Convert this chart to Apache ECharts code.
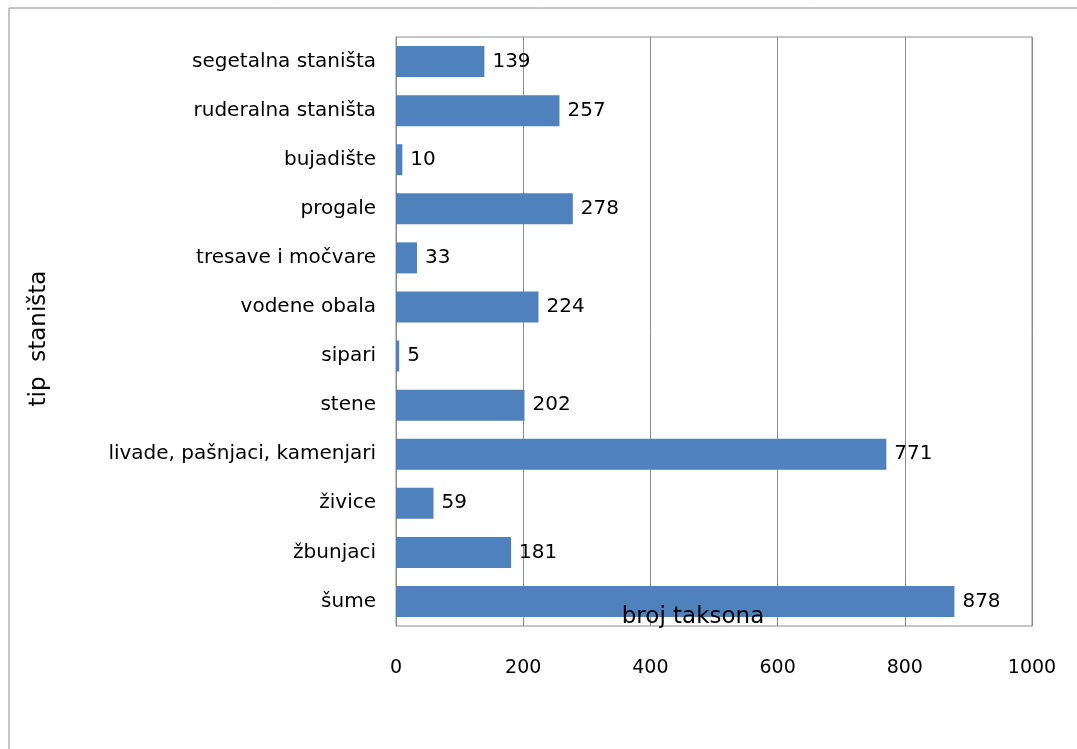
<!DOCTYPE html>
<html>
<head>
<meta charset="utf-8">
<script src="https://cdn.jsdelivr.net/npm/echarts@6/dist/echarts.min.js"></script>
<style>
  html, body { margin: 0; padding: 0; background: #fff; }
  #main { width: 1077px; height: 749px; }
</style>
</head>
<body>
<div id="main"></div>
<script>
// kategorije odozdo nagore (kao u originalu)
var categories = ['šume', 'žbunjaci', 'živice', 'livade, pašnjaci, kamenjari', 'stene', 'sipari',
    'vodene obala', 'tresave i močvare', 'progale', 'bujadište', 'ruderalna staništa', 'segetalna staništa'];
var values = [878, 181, 59, 771, 202, 5, 224, 33, 278, 10, 257, 139];
var xTicks = [0, 200, 400, 600, 800, 1000];

var myChart = echarts.init(document.getElementById('main'));
var font = '"DejaVu Sans", "Noto Sans", sans-serif';

myChart.setOption({
    animation: false,
    textStyle: { fontFamily: font },
    graphic: [{
        type: 'rect',
        shape: { x: 9, y: 8, width: 1200, height: 900 },
        style: { fill: 'none', stroke: '#8c8c8c', lineWidth: 1 }
    }],
    grid: {
        left: 396, right: 45, top: 37, bottom: 123,
        show: true, borderColor: '#8c8c8c', borderWidth: 1
    },
    xAxis: [{
        type: 'value',
        min: xTicks[0],
        max: xTicks[xTicks.length - 1],
        interval: 200,
        axisLine: { show: false },
        axisTick: { show: false },
        axisLabel: {
            margin: 33, fontSize: 19, color: '#000',
            formatter: function (v) { return String(v); }
        },
        splitLine: { lineStyle: { color: '#8c8c8c', width: 1 } }
    }, {
        // samo naziv ose, iznad stubića kao u originalu
        type: 'value',
        position: 'bottom',
        min: xTicks[0],
        max: xTicks[xTicks.length - 1],
        z: 10,
        name: 'broj taksona',
        nameLocation: 'middle',
        nameGap: -20,
        nameMoveOverlap: false,
        nameTextStyle: { fontSize: 23, color: '#000', fontFamily: font, padding: [0, 42, 0, 0] },
        axisLine: { show: false },
        axisTick: { show: false },
        axisLabel: { show: false },
        splitLine: { show: false }
    }],
    yAxis: {
        type: 'category',
        data: categories,
        name: 'tip  staništa',
        nameLocation: 'middle',
        nameRotate: 90,
        nameGap: 345,
        nameMoveOverlap: false,
        nameTextStyle: { fontSize: 23, color: '#000', fontFamily: font, padding: [0, 14, 0, 0] },
        axisLine: { show: true, lineStyle: { color: '#8c8c8c' } },
        axisTick: { show: false },
        axisLabel: { margin: 20, fontSize: 20, color: '#000' }
    },
    series: [{
        type: 'bar',
        data: values,
        barWidth: 31,
        itemStyle: { color: '#4F81BD' },
        label: {
            show: true,
            position: 'right',
            distance: 8,
            fontSize: 20,
            color: '#000'
        }
    }]
});
</script>
</body>
</html>
